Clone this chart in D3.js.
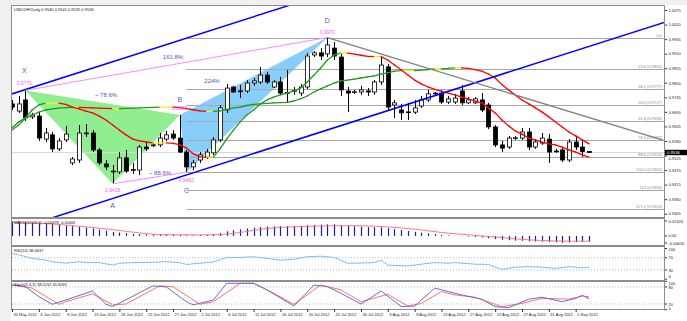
<!DOCTYPE html>
<html><head><meta charset="utf-8">
<script src="https://cdn.jsdelivr.net/npm/d3@7/dist/d3.min.js"></script>
<style>
html,body{margin:0;padding:0;background:#f0f0f0;overflow:hidden;}
svg{display:block;font-family:"Liberation Sans",Arial,sans-serif;}
</style></head><body>
<svg id="c" width="687" height="321"></svg>
<script>
// ---------------- DATA ----------------
const opens  = [.9720,.9693,.9735,.9671,.9674,.9587,.9603,.9550,.9584,.9497,.9508,.9610,.9610,.9546,.9493,.9466,.9463,.9516,.9470,.9470,.9557,.9565,.9565,.9587,.9606,.9591,.9538,.9482,.9508,.9519,.9535,.9584,.9697,.9784,.9769,.9769,.9799,.9803,.9829,.9784,.9803,.9761,.9769,.9761,.9784,.9905,.9913,.9909,.9931,.9897,.9769,.9765,.9765,.9769,.9765,.9803,.9860,.9716,.9697,.9689,.9689,.9712,.9735,.9758,.9761,.9727,.9727,.9769,.9724,.9724,.9735,.9716,.9633,.9565,.9557,.9591,.9591,.9614,.9557,.9572,.9587,.9542,.9546,.9508,.9576,.9557,.9540];
const highs  = [.9735,.9750,.9771,.9686,.9689,.9629,.9614,.9591,.9637,.9519,.9640,.9644,.9621,.9553,.9508,.9489,.9538,.9546,.9497,.9565,.9572,.9572,.9610,.9618,.9621,.9678,.9546,.9508,.9538,.9550,.9595,.9716,.9795,.9788,.9792,.9810,.9818,.9860,.9841,.9810,.9822,.9848,.9784,.9795,.9912,.9920,.9931,.9971,.9954,.9912,.9784,.9773,.9788,.9780,.9810,.9897,.9871,.9735,.9720,.9724,.9735,.9750,.9773,.9765,.9773,.9750,.9758,.9792,.9746,.9746,.9761,.9724,.9640,.9580,.9599,.9599,.9629,.9629,.9584,.9610,.9606,.9550,.9553,.9587,.9599,.9587,.9541];
const lows   = [.9697,.9686,.9655,.9663,.9580,.9576,.9538,.9542,.9576,.9489,.9497,.9595,.9538,.9489,.9470,.9418,.9455,.9459,.9455,.9451,.9542,.9557,.9557,.9580,.9584,.9535,.9462,.9470,.9497,.9512,.9527,.9576,.9686,.9761,.9742,.9761,.9788,.9795,.9795,.9780,.9754,.9724,.9754,.9750,.9776,.9897,.9886,.9897,.9886,.9750,.9689,.9758,.9754,.9750,.9754,.9792,.9697,.9667,.9659,.9659,.9682,.9705,.9727,.9754,.9720,.9720,.9720,.9716,.9720,.9720,.9689,.9625,.9557,.9538,.9550,.9584,.9584,.9546,.9550,.9565,.9497,.9535,.9500,.9500,.9546,.9519,.9535];
const closes = [.9708,.9720,.9667,.9678,.9591,.9610,.9550,.9580,.9606,.9512,.9610,.9608,.9546,.9497,.9482,.9463,.9516,.9466,.9472,.9557,.9550,.9564,.9591,.9603,.9591,.9538,.9482,.9497,.9527,.9538,.9584,.9705,.9780,.9765,.9767,.9799,.9807,.9829,.9803,.9803,.9761,.9763,.9771,.9784,.9901,.9913,.9901,.9943,.9901,.9773,.9761,.9766,.9773,.9765,.9803,.9867,.9708,.9724,.9686,.9690,.9705,.9735,.9758,.9761,.9727,.9739,.9742,.9724,.9735,.9739,.9697,.9633,.9565,.9553,.9591,.9592,.9614,.9557,.9576,.9591,.9538,.9541,.9508,.9576,.9557,.9540,.9536];

const maFast = [.9621,.9640,.9667,.9697,.9716,.9723,.9723,.9723,.9718,.9708,.9701,.9693,.9686,.9674,.9659,.9640,.9621,.9603,.9587,.9580,.9576,.9573,.9573,.9573,.9571,.9566,.9553,.9532,.9520,.9519,.9519,.9550,.9588,.9621,.9652,.9678,.9697,.9720,.9735,.9746,.9754,.9761,.9769,.9780,.9803,.9829,.9856,.9886,.9905,.9912,.9912,.9908,.9904,.9900,.9899,.9899,.9886,.9867,.9848,.9829,.9810,.9796,.9784,.9775,.9767,.9761,.9754,.9746,.9739,.9731,.9724,.9705,.9686,.9659,.9637,.9618,.9606,.9591,.9584,.9576,.9569,.9565,.9557,.9546,.9538,.9527,.9519];
const maSlow = [.9629,.9652,.9667,.9678,.9689,.9697,.9701,.9704,.9706,.9707,.9707,.9706,.9705,.9704,.9703,.9702,.9702,.9703,.9704,.9705,.9706,.9707,.9708,.9708,.9708,.9706,.9702,.9698,.9694,.9692,.9692,.9694,.9699,.9705,.9708,.9714,.9718,.9720,.9722,.9724,.9725,.9726,.9731,.9739,.9750,.9765,.9777,.9788,.9799,.9807,.9810,.9814,.9818,.9822,.9826,.9833,.9837,.9844,.9846,.9846,.9846,.9848,.9850,.9852,.9852,.9854,.9856,.9856,.9854,.9850,.9844,.9833,.9818,.9793,.9773,.9754,.9735,.9720,.9705,.9689,.9671,.9652,.9633,.9614,.9599,.9584,.9569];

const macd = [.0128,.0126,.0123,.0120,.0114,.0110,.0104,.0098,.0093,.0086,.0080,.0074,.0066,.0056,.0046,.0036,.0030,.0024,.0018,.0016,.0013,.0011,.0011,.0012,.0012,.0010,.0007,.0006,.0007,.0009,.0015,.0025,.0040,.0050,.0058,.0065,.0072,.0078,.0082,.0084,.0085,.0086,.0087,.0088,.0092,.0096,.0099,.0102,.0102,.0095,.0089,.0085,.0081,.0077,.0075,.0076,.0068,.0060,.0052,.0044,.0036,.0029,.0022,.0016,.0010,.0005,.0001,-.0003,-.0006,-.0009,-.0013,-.0020,-.0028,-.0034,-.0038,-.0041,-.0043,-.0047,-.0049,-.0050,-.0053,-.0054,-.0060,-.0058,-.0055,-.0050,-.0048];
const macdSignal = [[0,.0118],[5,.0108],[10,.0085],[15,.0055],[20,.0020],[22,.0012],[25,.0010],[28,.0009],[31,.0012],[34,.0030],[38,.0065],[42,.0080],[46,.0087],[50,.0090],[54,.0085],[58,.0070],[62,.0045],[64,.0030],[68,.0010],[72,-.0010],[76,-.0030],[80,-.0042],[84,-.0046],[86,-.0046]];

const rsi = [[0,84],[1,79],[3,68],[5,62],[6,57],[8,52],[10,57],[11,54],[13,54],[15,46],[16,52],[18,54],[21,55],[23,57],[25,54],[26,48],[28,52],[30,56],[32,71],[34,71],[36,73],[38,68],[40,62],[42,65],[44,73],[46,75],[48,71],[50,52],[51,52],[54,54],[55,62],[56,46],[59,43],[61,49],[63,54],[65,52],[66,54],[69,49],[71,48],[73,32],[75,39],[77,41],[79,39],[81,35],[83,41],[85,37],[86,38.66]];

const stochMain = [[0,87],[2,81],[4,46],[6,19],[8,34],[12,66],[14,19],[15,11],[21,84],[23,80],[26,28],[27,17],[30,34],[32,93],[36,93],[38,70],[42,13],[45,87],[47,81],[49,58],[52,20],[55,66],[58,11],[60,13],[63,76],[65,64],[67,52],[70,37],[72,11],[74,7],[77,37],[79,44],[82,28],[84,40],[85,51],[86,38.02]];
const stochSig  = [[0,87],[3,76],[7,19],[8,28],[12,56],[15,17],[17,20],[22,84],[24,81],[28,19],[30,28],[34,93],[36,93],[39,58],[42,19],[46,87],[49,70],[52,28],[56,54],[59,13],[61,22],[64,64],[66,52],[69,44],[73,11],[76,22],[79,40],[83,37],[85,48],[86,45.61]];

const priceTicks = [1.0075,1.0020,0.9965,0.9910,0.9855,0.9800,0.9745,0.9690,0.9635,0.9580,0.9525,0.9470,0.9415,0.9360,0.9305];
const dateLabels = ["30 May 2012","4 Jun 2012","8 Jun 2012","13 Jun 2012","18 Jun 2012","22 Jun 2012","27 Jun 2012","2 Jul 2012","6 Jul 2012","11 Jul 2012","16 Jul 2012","20 Jul 2012","25 Jul 2012","30 Jul 2012","3 Aug 2012","8 Aug 2012","13 Aug 2012","17 Aug 2012","22 Aug 2012","27 Aug 2012","31 Aug 2012","5 Sep 2012"];
const dateBars = [0,4,8,12,16,20,24,28,32,36,40,44,48,52,56,60,64,68,72,76,80,84];

const fibPrices = [0.9971,0.9851,0.9777,0.9717,0.9656,0.9582,0.9520,0.9462,0.9396,0.9324];
const fibLabels = ["0.0","23.6 (0.9851)","38.2 (0.9777)","50.0 (0.9717)","61.8 (0.9656)","76.4 (0.9582)","88.6 (0.9520)","100.0 (0.9462)","113 (0.9396)","127.2 (0.9324)"];
const fibStartBar = 26;

const pX = [2,0.9771], pA = [15,0.9418], pB = [25,0.9678], pC = [26,0.9462], pD = [47,0.9971];
const channelLower = [[0,0.9241],[90,0.9970]];
const channelUpper = [[0,0.9758],[90,1.0487]];
const trendGray = [[47,0.9971],[97,0.9583]];
const bidPrice = 0.9536;

// ---------------- DRAW ----------------
const svg = d3.select('#c');
const L = 12, R = 664;
const P = {main:[6,217], macd:[219,245], rsi:[247,280], sto:[282,309]};

svg.append('rect').attr('x',11).attr('y',5).attr('width',676).attr('height',316).attr('fill','#fff');

const x = d3.scaleLinear().domain([0,86]).range([12,589.1]);
const y = d3.scaleLinear().domain([0.9305,1.0075]).range([213.7,10]);
const yM = d3.scaleLinear().domain([-0.00616,0.01303]).range([243,221]);
const yR = d3.scaleLinear().domain([0,100]).range([279.2,248.5]);
const yS = d3.scaleLinear().domain([0,100]).range([309.7,281.3]);

const defs = svg.append('defs');
Object.entries(P).forEach(([k,v])=>{
  defs.append('clipPath').attr('id','clip-'+k).append('rect')
    .attr('x',L).attr('y',v[0]).attr('width',R-L).attr('height',v[1]-v[0]);
});

const gMain = svg.append('g').attr('clip-path','url(#clip-main)');
const pt = p => [x(p[0]), y(p[1])];

// triangles
gMain.append('path').attr('d', d3.line()([pt(pX),pt(pA),pt(pB)])+'Z').attr('fill','#90ee90');
gMain.append('path').attr('d', d3.line()([pt(pB),pt(pC),pt(pD)])+'Z').attr('fill','#87cefa');

// fib lines
fibPrices.forEach((p,i)=>{
  gMain.append('line').attr('x1',x(fibStartBar)).attr('x2',R).attr('y1',Math.round(y(p))+0.5).attr('y2',Math.round(y(p))+0.5)
    .attr('stroke','#a8a8a8').attr('stroke-width',1);
  svg.append('text').attr('x',R-2).attr('y',Math.round(y(p))-0.8).attr('text-anchor','end')
    .attr('font-size',4).attr('fill','#8a8a8a').text(fibLabels[i]);
});
// bid line
gMain.append('line').attr('x1',L).attr('x2',R).attr('y1',y(bidPrice)).attr('y2',y(bidPrice)).attr('stroke','#d8d8d8').attr('stroke-width',1);

// candles
const cw = 4;
const cg = gMain.append('g');
closes.forEach((c,i)=>{
  const o = opens[i], cx = Math.round(x(i))+0.5;
  cg.append('line').attr('x1',cx).attr('x2',cx).attr('y1',y(highs[i])).attr('y2',y(lows[i])).attr('stroke','#000').attr('stroke-width',1);
  const top = y(Math.max(o,c)), bot = y(Math.min(o,c));
  cg.append('rect').attr('x',cx-cw/2).attr('y',top).attr('width',cw).attr('height',Math.max(0.8,bot-top))
    .attr('fill', c>=o ? '#fff' : '#000').attr('stroke','#000').attr('stroke-width',0.8);
});

// MAs with slope colouring
function colouredMA(vals){
  const thr = 0.00004;
  for(let i=0;i<vals.length-1;i++){
    const d = vals[i+1]-vals[i];
    const col = d>thr ? '#1e9a1e' : (d < -thr ? '#ff0000' : '#f5f500');
    gMain.append('line').attr('x1',x(i)).attr('y1',y(vals[i])).attr('x2',x(i+1)).attr('y2',y(vals[i+1]))
      .attr('stroke',col).attr('stroke-width',1.3).attr('stroke-linecap','round');
  }
}
colouredMA(maSlow);
colouredMA(maFast);

// trend / channel lines
function extend(pts,a,b){const s=(pts[1][1]-pts[0][1])/(pts[1][0]-pts[0][0]);return [[a,pts[0][1]+s*(a-pts[0][0])],[b,pts[0][1]+s*(b-pts[0][0])]];}
const ln = d3.line().x(d=>x(d[0])).y(d=>y(d[1]));
gMain.append('path').attr('d',ln(extend(channelLower,-5,110))).attr('stroke','#0000ff').attr('stroke-width',1.5).attr('fill','none');
gMain.append('path').attr('d',ln(extend(channelUpper,-5,110))).attr('stroke','#0000ff').attr('stroke-width',1.5).attr('fill','none');
gMain.append('path').attr('d',ln(trendGray)).attr('stroke','#808080').attr('stroke-width',1.3).attr('fill','none');
gMain.append('path').attr('d',ln([pX,pD])).attr('stroke','#ff88ff').attr('stroke-width',1).attr('fill','none');
gMain.append('path').attr('d',ln([pA,pC])).attr('stroke','#ff88ff').attr('stroke-width',1).attr('fill','none');

// pattern labels
const lab = (t,xx,yy,fs,col)=>svg.append('text').attr('x',xx).attr('y',yy).attr('text-anchor','middle').attr('font-size',fs).attr('fill',col).text(t);
const LB='#5858b8', PK='#ff55ff';
lab('X', x(pX[0])-1, 73, 7, LB); lab('0.9771', x(pX[0])-1, 85, 5, PK);
lab('~ 78.6%', 106, 97, 6, LB);
lab('161.8%', 173, 59, 6, LB);
lab('224%', 212, 83, 6, LB);
lab('B', x(pB[0]), 102, 7, LB); lab('0.9678', x(pB[0]), 110, 5, PK);
lab('~ 88.6%', 160, 175, 6, LB);
lab('0.9418', x(pA[0]), 192, 5, PK); lab('A', x(pA[0]), 208, 7, LB);
lab('0.9462', x(pC[0]), 182, 5, PK); lab('C', x(pC[0]), 193, 7, LB);
lab('D', x(pD[0]), 23, 7, LB); lab('0.9971', x(pD[0]), 34, 5, PK);

// price axis
const ax = svg.append('g').attr('transform',`translate(${R},0)`)
  .call(d3.axisRight(y).tickValues(priceTicks).tickSize(3).tickFormat(d3.format('.4f')));
ax.select('.domain').remove();
ax.selectAll('text').attr('font-size',4).attr('fill','#222').attr('x',4.5).attr('font-family','Liberation Sans,Arial,sans-serif')
  .attr('dy', d => Math.abs(d-0.9525)<1e-6 ? '1.1em' : '0.32em');
ax.selectAll('line').attr('stroke','#333');
// current price box
svg.append('rect').attr('x',R+1).attr('y',y(bidPrice)-2.8).attr('width',22).attr('height',5.4).attr('fill','#000');
svg.append('text').attr('x',R+3).attr('y',y(bidPrice)+1.4).attr('font-size',4.2).attr('fill','#fff').text(bidPrice.toFixed(4));

// ---- MACD ----
const gM = svg.append('g').attr('clip-path','url(#clip-macd)');
macd.forEach((v,i)=>{
  gM.append('line').attr('x1',Math.round(x(i))+0.5).attr('x2',Math.round(x(i))+0.5).attr('y1',yM(0)).attr('y2',yM(v))
    .attr('stroke','#1c1ca0').attr('stroke-width',1.2);
});
gM.append('path').attr('d',d3.line().curve(d3.curveMonotoneX).x(d=>x(d[0])).y(d=>yM(d[1]))(macdSignal))
  .attr('fill','none').attr('stroke','#ff6a6a').attr('stroke-width',0.9);
[[0.01303,'0.01303'],[0,'0.00'],[-0.00616,'-0.00616']].forEach(t=>{
  svg.append('line').attr('x1',R).attr('x2',R+3).attr('y1',yM(t[0])).attr('y2',yM(t[0])).attr('stroke','#333');
  svg.append('text').attr('x',R+4.5).attr('y',yM(t[0])+1.5).attr('font-size',4).attr('fill','#222').text(t[1]);
});

// ---- RSI ----
const gR = svg.append('g').attr('clip-path','url(#clip-rsi)');
[70,30].forEach(v=>gR.append('line').attr('x1',L).attr('x2',R).attr('y1',yR(v)).attr('y2',yR(v)).attr('stroke','#b8b8b8').attr('stroke-dasharray','1,2'));
gR.append('path').attr('d',d3.line().x(d=>x(d[0])).y(d=>yR(d[1]))(rsi)).attr('fill','none').attr('stroke','#7cbcf2').attr('stroke-width',1);
[[100,251.2],[70,259.3],[30,271.6],[0,277.6]].forEach(([v,ty])=>{
  svg.append('line').attr('x1',R).attr('x2',R+3).attr('y1',yR(v)).attr('y2',yR(v)).attr('stroke','#333');
  svg.append('text').attr('x',R+4.5).attr('y',ty).attr('font-size',4).attr('fill','#222').text(v);
});

// ---- Stoch ----
const gS = svg.append('g').attr('clip-path','url(#clip-sto)');
[80,20].forEach(v=>gS.append('line').attr('x1',L).attr('x2',R).attr('y1',yS(v)).attr('y2',yS(v)).attr('stroke','#b8b8b8').attr('stroke-dasharray','1,2'));
const sl = d3.line().x(d=>x(d[0])).y(d=>yS(d[1]));
gS.append('path').attr('d',sl(stochSig)).attr('fill','none').attr('stroke','#ff7070').attr('stroke-width',1);
gS.append('path').attr('d',sl(stochMain)).attr('fill','none').attr('stroke','#6a6ad0').attr('stroke-width',1);
[[100,284.6],[80,289.2],[20,305.5],[0,309.6]].forEach(([v,ty])=>{
  svg.append('line').attr('x1',R).attr('x2',R+3).attr('y1',yS(v)).attr('y2',yS(v)).attr('stroke','#333');
  svg.append('text').attr('x',R+4.5).attr('y',ty).attr('font-size',4).attr('fill','#222').text(v);
});

// panel borders
Object.values(P).forEach(v=>{
  svg.append('rect').attr('x',L-0.5).attr('y',v[0]-0.5).attr('width',R-L+1).attr('height',v[1]-v[0]+1)
    .attr('fill','none').attr('stroke','#8c8c8c').attr('stroke-width',1);
});

// titles
const ttl=(t,yy)=>svg.append('text').attr('x',14).attr('y',yy).attr('font-size',4).attr('fill','#111').text(t);
ttl('USDCHF,Daily  0.9540 0.9541 0.9535 0.9536', 11);
ttl('MACD(12,26,9) -0.00478 -0.00461', 223.5);
ttl('RSI(14) 38.6637', 251.5);
ttl('Stoch(5,3,3) 38.0192 45.6091', 286);

// date axis
const dx = svg.append('g').attr('transform',`translate(0,${P.sto[1]})`)
  .call(d3.axisBottom(x).tickValues(dateBars).tickSize(3).tickFormat((d,i)=>dateLabels[i]));
dx.select('.domain').remove();
dx.selectAll('line').attr('stroke','#333');
dx.selectAll('text').attr('font-size',4).attr('fill','#222').attr('text-anchor','start').attr('x',1).attr('y',4.5)
  .attr('font-family','Liberation Sans,Arial,sans-serif');
</script></body></html>
